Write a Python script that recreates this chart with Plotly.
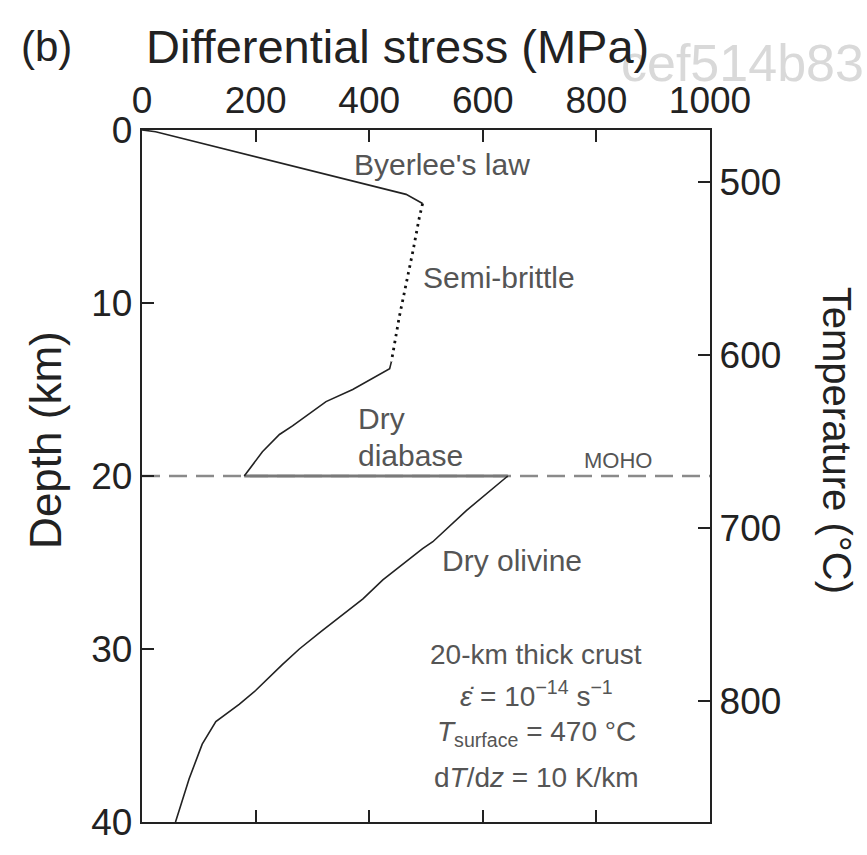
import plotly.graph_objects as go

# Strength envelope segments (differential stress in MPa vs depth in km)
byerlee_stress = [0, 24, 465, 494]
byerlee_depth = [0.0, 0.1, 3.72, 4.25]

semibrittle_stress = [494, 488, 477, 468, 453, 439]
semibrittle_depth = [4.25, 5.1, 7.0, 8.5, 10.8, 13.4]

diabase_stress = [439, 436, 371, 324, 265, 242, 212, 180]
diabase_depth = [13.4, 13.8, 15.0, 15.7, 17.1, 17.6, 18.6, 20.0]

olivine_stress = [644, 571, 512, 494, 424, 389, 315, 277, 247, 200, 171, 130, 106, 83, 59]
olivine_depth = [20.0, 22.0, 23.8, 24.2, 26.0, 27.1, 29.0, 30.0, 30.9, 32.4, 33.2, 34.2, 35.5, 37.5, 40.0]

moho_depth = 20.0
stress_ticks = [0, 200, 400, 600, 800, 1000]
depth_ticks = [0, 10, 20, 30, 40]
temp_ticks = [500, 600, 700, 800]
t_surface = 470      # degC
gradient = 10        # K/km
max_depth = 40

FONT = "Liberation Sans, Arial, Helvetica, sans-serif"
INK = "#222222"
LABEL = "#555555"

fig = go.Figure()

# MOHO: dashed reference line across the panel
fig.add_trace(go.Scatter(x=[0, 1000], y=[moho_depth, moho_depth], mode="lines",
                         line=dict(color="#8a8a8a", width=2.5, dash="18px,9px"),
                         hoverinfo="skip"))
# Crust-mantle strength jump at the MOHO
fig.add_trace(go.Scatter(x=[diabase_stress[-1], olivine_stress[0]], y=[moho_depth, moho_depth],
                         mode="lines", line=dict(color="#7a7a7a", width=3), hoverinfo="skip"))

fig.add_trace(go.Scatter(x=byerlee_stress, y=byerlee_depth, mode="lines",
                         line=dict(color=INK, width=1.6)))
fig.add_trace(go.Scatter(x=semibrittle_stress, y=semibrittle_depth, mode="lines",
                         line=dict(color="#111111", width=2.8, dash="2.5px,4.5px")))
fig.add_trace(go.Scatter(x=diabase_stress, y=diabase_depth, mode="lines",
                         line=dict(color=INK, width=1.6)))
fig.add_trace(go.Scatter(x=olivine_stress, y=olivine_depth, mode="lines",
                         line=dict(color=INK, width=1.6)))

# Invisible trace carrying the temperature axis
temp_range = [t_surface + gradient * max_depth, t_surface]
fig.add_trace(go.Scatter(x=[0, 0], y=temp_range, yaxis="y2", mode="markers",
                         marker=dict(opacity=0), hoverinfo="skip"))

axis_common = dict(showline=True, linecolor=INK, linewidth=2.4, ticks="inside",
                   ticklen=12, tickwidth=1.5, tickcolor=INK, showgrid=False,
                   zeroline=False, tickfont=dict(family=FONT, size=37, color=INK))

fig.update_layout(
    width=867, height=855,
    margin=dict(l=142, r=157, t=130, b=22),
    paper_bgcolor="white", plot_bgcolor="white",
    showlegend=False,
    xaxis=dict(range=[0, 1000], side="top", mirror="ticks", tickvals=stress_ticks,
               **axis_common),
    yaxis=dict(range=[max_depth, 0], tickvals=depth_ticks, **axis_common),
    yaxis2=dict(range=temp_range, overlaying="y", side="right", tickvals=temp_ticks,
                **axis_common),
)

annotations = [
    dict(text="cef514b83", x=1.2746, y=1.097, xanchor="right",
         font=dict(size=52, color="#d9d9d9")),
    dict(text="(b)", x=-0.169, y=1.121, font=dict(size=42)),
    dict(text="Differential stress (MPa)", x=0.449, y=1.121, font=dict(size=47)),
    dict(text="Depth (km)", x=-0.171, y=0.552, textangle=-90, font=dict(size=44)),
    dict(text="Temperature (°C)", x=1.224, y=0.552, textangle=90, font=dict(size=40)),
]
for a in annotations:
    a.setdefault("xanchor", "center")
    a["font"].setdefault("color", INK)
    a["font"]["family"] = FONT
    fig.add_annotation(xref="paper", yref="paper", showarrow=False,
                       yanchor="middle", **a)

labels = [
    ("Byerlee's law", 529, 2.0, "center", 30),
    ("Semi-brittle", 628, 8.5, "center", 30),
    ("Dry", 377, 16.7, "left", 30),
    ("diabase", 377, 18.8, "left", 30),
    ("MOHO", 838, 19.1, "center", 22),
    ("Dry olivine", 651, 24.9, "center", 30),
    ("20-km thick crust", 694, 30.3, "center", 28),
    ("<i>ε̇</i> = 10<sup>−14</sup> s<sup>−1</sup>", 694, 32.6, "center", 28),
    ("<i>T</i><sub>surface</sub> = 470 °C", 694, 34.9, "center", 28),
    ("d<i>T</i>/d<i>z</i> = 10 K/km", 694, 37.4, "center", 28),
]
for text, sx, dz, anchor, size in labels:
    fig.add_annotation(x=sx, y=dz, xref="x", yref="y", text=text, showarrow=False,
                       xanchor=anchor, yanchor="middle",
                       font=dict(family=FONT, size=size, color=LABEL))

fig.write_html("out.html")
